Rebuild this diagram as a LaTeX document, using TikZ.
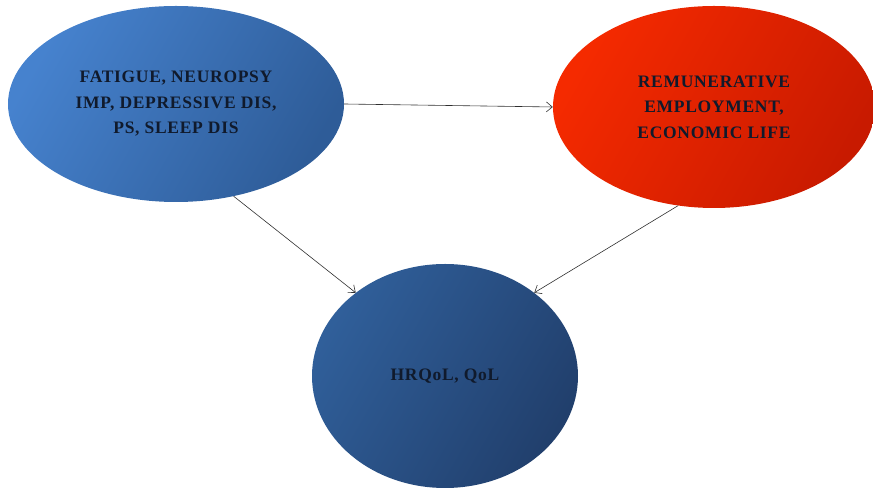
\documentclass[tikz,border=0pt]{standalone}
\usepackage{fontspec}
\setmainfont{Liberation Serif}
\newfontfamily\bubblefont[LetterSpace=4]{Liberation Serif}
\usetikzlibrary{shapes.geometric,arrows.meta}
\definecolor{blueLight}{HTML}{4682CE}
\definecolor{blueDark}{HTML}{2E5C98}
\definecolor{redLight}{HTML}{F52A00}
\definecolor{redDark}{HTML}{C81A00}
\definecolor{navyLight}{HTML}{305F9A}
\definecolor{navyDark}{HTML}{213F6C}
\definecolor{labelInk}{HTML}{101A2C}
\definecolor{linkInk}{HTML}{303030}
\tikzset{
  bubble/.style={ellipse, inner sep=0pt, align=center, text=labelInk,
    font=\bubblefont\fontsize{17.5}{25.5}\selectfont\bfseries},
  link/.style={draw=linkInk, line width=0.6pt,
    -{Straight Barb[length=6pt,width=10pt]}}
}
\begin{document}
\begin{tikzpicture}[x=1pt,y=1pt]
  \useasboundingbox (0,0) rectangle (873,492);
  % upper-left factor cluster
  \node[bubble, minimum width=336pt, minimum height=196pt,
        left color=blueLight, right color=blueDark, shading angle=60]
    (fatigue) at (176,388) {FATIGUE, NEUROPSY\\IMP, DEPRESSIVE DIS,\\PS, SLEEP DIS};
  % upper-right factor cluster
  \node[bubble, minimum width=322pt, minimum height=202pt,
        left color=redLight, right color=redDark, shading angle=60]
    (work) at (714,385) {REMUNERATIVE\\EMPLOYMENT,\\ECONOMIC LIFE};
  % outcome
  \node[bubble, minimum width=266pt, minimum height=224pt,
        left color=navyLight, right color=navyDark, shading angle=60]
    (qol) at (445,116) {HRQoL, QoL};
  % influences
  \draw[link] (fatigue.east) -- (work.west);
  \draw[link] (fatigue.-58) -- (qol.137);
  \draw[link] (work.-110) -- (qol.43);
\end{tikzpicture}
\end{document}
